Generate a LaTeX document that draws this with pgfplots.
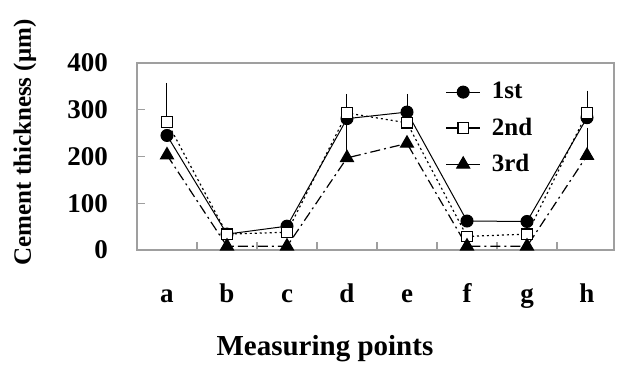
\documentclass[border=0pt]{standalone}
\usepackage{fontspec}
\setmainfont{Liberation Serif}
\usepackage{pgfplots}
\pgfplotsset{compat=1.18}
\begin{document}
\begin{tikzpicture}
\begin{axis}[
  scale only axis,
  width=238.5pt, height=93.5pt,
  xmin=0.5, xmax=8.45, ymin=0, ymax=400,
  axis line style={draw=gray!75, line width=0.6pt},
  tick align=inside,
  xtick pos=bottom, ytick pos=left,
  ytick={0,100,200,300,400},
  ytick style={draw=gray!75, line width=0.6pt},
  major tick length=4pt,
  /pgf/number format/assume math mode=true,
  yticklabel style={font=\fontsize{13.5}{15}\selectfont\bfseries, xshift=-11pt},
  xtick={1,2,3,4,5,6,7,8},
  xticklabels={a,b,c,d,e,f,g,h},
  xtick style={draw=none},
  xticklabel style={font=\fontsize{13.5}{15}\selectfont\bfseries, anchor=base, yshift=-26pt},
  extra x ticks={1.5,2.5,3.5,4.5,5.5,6.5,7.5},
  extra x tick labels={},
  extra x tick style={xtick style={draw=gray!75, line width=0.6pt}},
  xlabel={Measuring points},
  xlabel style={font=\fontsize{14.5}{16}\selectfont\bfseries, at={(axis description cs:0.394,0)}, anchor=base, yshift=-52.5pt},
  ylabel={Cement thickness (μm)},
  ylabel style={font=\fontsize{12.5}{15}\selectfont\bfseries, at={(axis description cs:-0.235,0.575)}, anchor=center},
  legend style={at={(rel axis cs:0.646,0.92)}, anchor=north west, draw=none, fill=none,
    font=\fontsize{12.5}{14}\selectfont\bfseries, row sep=4pt, inner sep=0pt},
  legend cell align=left,
  legend image code/.code={\draw[mark repeat=2,mark phase=2,#1,solid] plot coordinates {(0cm,0cm) (0.3cm,0cm) (0.6cm,0cm)};},
]
% error bars (plus direction only)
\addplot[forget plot, draw=none, mark=none,
  error bars/.cd, y dir=plus, y explicit,
  error bar style={draw=black, solid, line width=0.5pt},
  error mark options={draw=black, solid, mark size=2.5pt, line width=0.5pt}]
  coordinates {(5,295) +- (0,28)};
\addplot[forget plot, draw=none, mark=none,
  error bars/.cd, y dir=plus, y explicit,
  error bar style={draw=black, solid, line width=0.5pt},
  error mark options={draw=black, solid, mark size=2.5pt, line width=0.5pt}]
  coordinates {(1,274) +- (0,73) (4,293) +- (0,30) (5,272) +- (0,43) (8,293) +- (0,37)};
\addplot[forget plot, draw=none, mark=none,
  error bars/.cd, y dir=plus, y explicit,
  error bar style={draw=black, solid, line width=0.5pt},
  error mark options={draw=black, solid, mark size=2.5pt, line width=0.5pt}]
  coordinates {(4,197) +- (0,67) (8,202) +- (0,49)};
% series
\addplot[black, line width=0.5pt, mark=*, mark size=3pt, mark options={solid, fill=black}]
  coordinates {(1,245) (2,34) (3,51) (4,281) (5,295) (6,62) (7,61) (8,283)};
\addlegendentry{\hspace{3.5pt}1st}
\addplot[black, line width=0.6pt, dash pattern=on 1pt off 1.5pt, mark=square*, mark size=2.6pt, mark options={solid, fill=white}]
  coordinates {(1,274) (2,34) (3,38) (4,293) (5,272) (6,29) (7,34) (8,293)};
\addlegendentry{\hspace{3.5pt}2nd}
\addplot[black, line width=0.6pt, dash pattern=on 5pt off 2pt on 1pt off 2pt, mark=triangle*, mark size=3.7pt, mark options={solid, fill=black}]
  coordinates {(1,203) (2,8) (3,8) (4,197) (5,228) (6,8) (7,8) (8,202)};
\addlegendentry{\hspace{3.5pt}3rd}
\end{axis}
\pgfresetboundingbox
\path ([shift={(-68.5pt,-57.5pt)}]current axis.south west) rectangle ([shift={(240pt,125pt)}]current axis.south west);
\end{tikzpicture}
\end{document}
